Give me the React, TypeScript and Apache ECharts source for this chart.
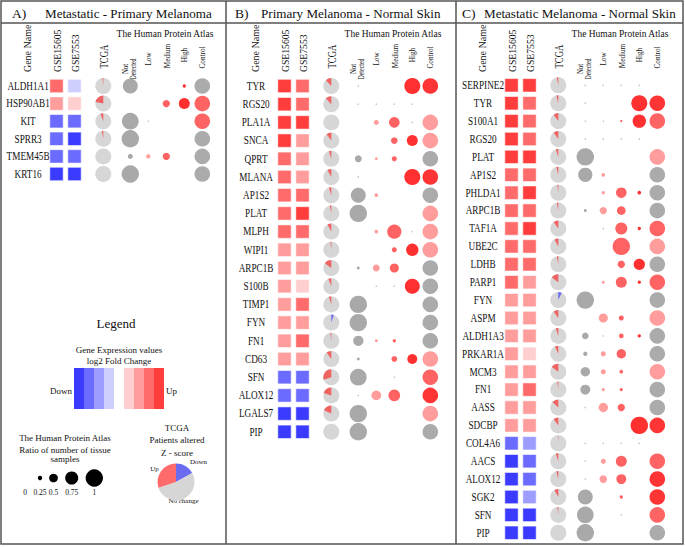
import React, { useEffect, useRef } from "react";
import * as echarts from "echarts";

const SERIF = "Liberation Serif";

// ---------- Panel A: Metastatic - Primary Melanoma ----------
const genesA = ["ALDH1A1", "HSP90AB1", "KIT", "SPRR3", "TMEM45B", "KRT16"];
const gse15605A = [3, 2, -3, -3, -3, -4];
const gse7553A = [-1, 1, -3, -4, -3, -4];
const tcgaUpA = [0.02, 0.22, 0.06, 0.03, 0, 0];
const tcgaDownA = [0, 0, 0, 0, 0, 0];
const notDetectedA = [0.86, 0, 0.96, 1.0, 0.29, 1.0];
const lowA = [0, 0, 0.05, 0, 0.25, 0];
const mediumA = [0, 0.42, 0, 0, 0.42, 0];
const highA = [0.19, 0.63, 0, 0, 0, 0];
const controlA = [0, 2, 2, 0, 0, 0];

// ---------- Panel B: Primary Melanoma - Normal Skin ----------
const genesB = ["TYR", "RGS20", "PLA1A", "SNCA", "QPRT", "MLANA", "AP1S2", "PLAT", "MLPH", "WIPI1", "ARPC1B", "S100B", "TIMP1", "FYN", "FN1", "CD63", "SFN", "ALOX12", "LGALS7", "PIP"];
const gse15605B = [4, 4, 4, 4, 3, 3, 3, 3, 3, 2, 2, 2, 2, 2, 2, 2, -3, -3, -4, -4];
const gse7553B = [3, 3, 4, 2, 2, 2, 3, 4, 3, 2, 2, 1, 3, 2, 3, 2, -3, -3, -4, -4];
const tcgaUpB = [0.12, 0.12, 0, 0.1, 0.05, 0.08, 0.05, 0.03, 0.08, 0.02, 0.15, 0.06, 0.05, 0, 0.02, 0.1, 0.3, 0.2, 0.18, 0];
const tcgaDownB = [0, 0, 0, 0, 0, 0, 0, 0, 0, 0, 0, 0, 0, 0.05, 0, 0, 0, 0, 0, 0];
const notDetectedB = [0.04, 0.03, 0, 0, 0.4, 0.04, 0.86, 1.0, 0, 0, 0.17, 0, 1.0, 1.0, 0.59, 0.17, 0.96, 0.04, 1.0, 1.0];
const lowB = [0, 0.03, 0.29, 0, 0.17, 0, 0.21, 0, 0.21, 0, 0.4, 0.04, 0, 0, 0.17, 0, 0, 0.56, 0, 0];
const mediumB = [0, 0.03, 0.61, 0.38, 0.29, 0, 0, 0, 0.82, 0.29, 0.52, 0.05, 0, 0, 0.19, 0.33, 0.04, 0.67, 0, 0];
const highB = [0.92, 0.03, 0.06, 0.63, 0, 0.92, 0, 0, 0.05, 0.71, 0, 0.86, 0, 0, 0, 0.57, 0, 0, 0, 0];
const controlB = [3, -1, 1, 1, 0, 3, 0, 1, 1, 1, 0, 0, 0, 0, 0, 1, 2, 3, 1, 0];

// ---------- Panel C: Metastatic Melanoma - Normal Skin ----------
const genesC = ["SERPINE2", "TYR", "S100A1", "RGS20", "PLAT", "AP1S2", "PHLDA1", "ARPC1B", "TAF1A", "UBE2C", "LDHB", "PARP1", "FYN", "ASPM", "ALDH1A3", "PRKAR1A", "MCM3", "FN1", "AASS", "SDCBP", "COL4A6", "AACS", "ALOX12", "SGK2", "SFN", "PIP"];
const gse15605C = [4, 4, 4, 4, 4, 3, 3, 3, 3, 3, 3, 3, 2, 2, 2, 2, 2, 2, 2, 2, -3, -4, -4, -4, -4, -4];
const gse7553C = [4, 3, 3, 3, 4, 3, 4, 3, 4, 3, 3, 2, 2, 2, 2, 1, 2, 3, 2, 2, -2, -3, -3, -2, -4, -4];
const tcgaUpC = [0.03, 0.04, 0.1, 0.1, 0.05, 0.04, 0.02, 0.03, 0.1, 0.08, 0.03, 0.15, 0, 0.1, 0.05, 0.07, 0.15, 0.02, 0.13, 0.1, 0.01, 0.05, 0.04, 0.08, 0.02, 0];
const tcgaDownC = [0, 0, 0, 0, 0, 0, 0, 0, 0, 0, 0, 0, 0.07, 0, 0, 0, 0, 0, 0, 0, 0, 0, 0, 0, 0, 0];
const notDetectedC = [0.03, 0.03, 0.03, 0.03, 1.0, 0.82, 0, 0.17, 0, 0, 0, 0, 1.0, 0, 0.38, 0.25, 0.54, 0.57, 0.04, 0, 0.03, 0.04, 0.04, 0.86, 0.96, 1.0];
const lowC = [0.03, 0, 0.03, 0.03, 0, 0.21, 0.19, 0.42, 0.06, 0, 0, 0.17, 0, 0.52, 0.04, 0.29, 0.29, 0.19, 0.54, 0, 0.03, 0.29, 0.44, 0, 0, 0];
const mediumC = [0.03, 0, 0.13, 0.03, 0, 0, 0.61, 0.5, 0.69, 1.0, 0.42, 0.63, 0, 0.29, 0.27, 0.54, 0.21, 0.19, 0.42, 0, 0.03, 0.63, 0.57, 0.19, 0.04, 0];
const highC = [0.03, 0.92, 0.77, 0.03, 0, 0, 0.21, 0, 0.19, 0, 0.65, 0.19, 0, 0, 0.19, 0, 0, 0, 0, 1.0, 0.03, 0, 0, 0, 0, 0];
const controlC = [-1, 3, 2, -1, 1, 0, 0, 0, 2, 1, 0, 2, 0, 1, 0, 0, 1, 0, 0, 3, -1, 2, 3, 3, 2, 0];

// ---------- Texts ----------
const panelLetters = ["A)", "B)", "C)"];
const panelTitles = ["Metastatic - Primary Melanoma", "Primary Melanoma - Normal Skin", "Metastatic Melanoma - Normal Skin"];
const legendPieNames = ["Down", "No change", "Up"];
const legendPieValues = [17, 53, 30];
const sizeLegendValues = [0, 0.25, 0.5, 0.75, 1];
const sizeLegendLabels = ["0", "0.25", "0.5", "0.75", "1"];
const foldLegendLevels = [-4, -3, -2, -1, 1, 2, 3, 4];

// ---------- Styling / layout ----------
const GSE_COLORS: Record<string, string> = {
  "-4": "#3b3bff", "-3": "#6b6bff", "-2": "#9d9dff", "-1": "#ceceff",
  "1": "#ffcece", "2": "#ff9d9d", "3": "#ff6b6b", "4": "#ff3d3d",
};
const CONTROL_COLORS = ["#ababab", "#ff9d9d", "#ff6464", "#ff3535"];
const HPA_COLORS = ["#a9a9a9", "#ff9d9d", "#ff6262", "#ff3030"];
const PIE_GREY = "#d6d6d6";
const PIE_UP = "#f06363";
const PIE_DOWN = "#6b6bef";
const COL_POS = [0, 1, 2.6, 4.1, 5.1, 6.1, 7.1, 8.1];
const NAME_POS = -1.58;
const UNIT = 18;
const R_MAX = 8.7;

const panels = [
  { px: 0, top: 77.2, rowH: 17.6, genes: genesA, g1: gse15605A, g2: gse7553A, up: tcgaUpA, down: tcgaDownA, nd: notDetectedA, low: lowA, med: mediumA, high: highA, ctrl: controlA },
  { px: 228, top: 76.9, rowH: 18.2, genes: genesB, g1: gse15605B, g2: gse7553B, up: tcgaUpB, down: tcgaDownB, nd: notDetectedB, low: lowB, med: mediumB, high: highB, ctrl: controlB },
  { px: 455, top: 76.35, rowH: 17.9, genes: genesC, g1: gse15605C, g2: gse7553C, up: tcgaUpC, down: tcgaDownC, nd: notDetectedC, low: lowC, med: mediumC, high: highC, ctrl: controlC },
];

function makeRenderer(genes: string[]) {
  return function renderRow(params: any, api: any) {
    const i = api.value(1);
    const x = (k: number) => api.coord([COL_POS[k], i])[0];
    const y = api.coord([0, i])[1];
    const children: any[] = [];
    children.push({
      type: "text", x: api.coord([NAME_POS, i])[0], y, scaleX: 0.8,
      style: { text: genes[i], fontFamily: SERIF, fontSize: 11.5, fill: "#111", align: "center", verticalAlign: "middle" },
    });
    const sq = 13.4;
    [2, 3].forEach((dim, k) => {
      const v = api.value(dim);
      children.push({
        type: "rect",
        shape: { x: x(k) - sq / 2, y: y - sq / 2, width: sq, height: sq },
        style: { fill: GSE_COLORS[String(v)], stroke: "rgba(255,255,255,0.55)", lineWidth: 1 },
      });
    });
    const pcx = x(2);
    const pr = 8;
    children.push({ type: "circle", shape: { cx: pcx, cy: y, r: pr }, style: { fill: PIE_GREY } });
    const up = api.value(4);
    const down = api.value(5);
    if (up > 0) {
      children.push({
        type: "sector",
        shape: { cx: pcx, cy: y, r0: 0, r: pr, startAngle: -Math.PI / 2 - up * 2 * Math.PI, endAngle: -Math.PI / 2, clockwise: true },
        style: { fill: PIE_UP },
      });
    }
    if (down > 0) {
      children.push({
        type: "sector",
        shape: { cx: pcx, cy: y, r0: 0, r: pr, startAngle: -Math.PI / 2, endAngle: -Math.PI / 2 + down * 2 * Math.PI, clockwise: true },
        style: { fill: PIE_DOWN },
      });
    }
    for (let k = 0; k < 4; k++) {
      const v = api.value(6 + k);
      if (v > 0) {
        children.push({
          type: "circle",
          shape: { cx: x(3 + k), cy: y, r: Math.max(0.8, R_MAX * v) },
          style: { fill: v < 0.08 ? "#c8c8c8" : HPA_COLORS[k] },
        });
      }
    }
    const c = api.value(10);
    if (c >= 0) {
      children.push({ type: "circle", shape: { cx: x(7), cy: y, r: 7.8 }, style: { fill: CONTROL_COLORS[c] } });
    }
    return { type: "group", children };
  };
}

function buildOption() {
  const grid: any[] = [];
  const xAxis: any[] = [];
  const yAxis: any[] = [];
  const series: any[] = [];
  const graphic: any[] = [];

  const txt = (text: string, x: number, y: number, size: number, align = "center", extra: any = {}) => ({
    type: "text", x, y, ...extra,
    style: { text, fontFamily: SERIF, fontSize: size, fill: "#111", align, verticalAlign: "middle" },
  });

  panels.forEach((p, pi) => {
    const left = p.px + 56.5 - 0.5 * UNIT;
    grid.push({ left, top: p.top, width: (COL_POS[7] + 1) * UNIT, height: p.genes.length * p.rowH });
    xAxis.push({ type: "value", gridIndex: pi, min: -0.5, max: COL_POS[7] + 0.5, show: false });
    yAxis.push({
      type: "category", gridIndex: pi, data: p.genes, inverse: true,
      axisLine: { show: false }, axisTick: { show: false }, splitLine: { show: false },
      axisLabel: { show: false },
    });
    series.push({
      type: "custom", xAxisIndex: pi, yAxisIndex: pi, clip: false, silent: true,
      renderItem: makeRenderer(p.genes),
      encode: { x: 0, y: 1 },
      data: p.genes.map((_, i) => [0, i, p.g1[i], p.g2[i], p.up[i], p.down[i], p.nd[i], p.low[i], p.med[i], p.high[i], p.ctrl[i]]),
    });

    // header
    const letterX = [12, 235, 462][pi];
    const titleX = [45, 261, 484][pi];
    graphic.push(txt(panelLetters[pi], letterX, 13.5, 13.5, "left"));
    graphic.push(txt(panelTitles[pi], titleX, 13.5, 13.5, "left", { scaleX: 0.97 }));

    // column headers
    const px = p.px;
    const rot = Math.PI / 2;
    graphic.push(txt("Gene Name", px + 27, 72, 10.5, "left", { rotation: rot, scaleX: 0.95 }));
    graphic.push(txt("GSE15605", px + 57, 72, 10.5, "left", { rotation: rot, scaleX: 0.92 }));
    graphic.push(txt("GSE7553", px + 75, 72, 10.5, "left", { rotation: rot, scaleX: 0.92 }));
    graphic.push(txt("TCGA", px + 103, 68.5, 12.5, "left", { rotation: rot, scaleX: 0.7 }));
    graphic.push(txt("Not", px + 125, 69, 8.5, "center", { rotation: rot, scaleX: 0.8 }));
    graphic.push(txt("Detected", px + 133.5, 69, 8.5, "center", { rotation: rot, scaleX: 0.7 }));
    graphic.push(txt("Low", px + 148, 59, 8.5, "center", { rotation: rot, scaleX: 0.85 }));
    graphic.push(txt("Medium", px + 167, 56, 8.5, "center", { rotation: rot, scaleX: 0.85 }));
    graphic.push(txt("High", px + 184, 55, 8.5, "center", { rotation: rot, scaleX: 0.85 }));
    graphic.push(txt("Control", px + 202, 57.5, 8.5, "center", { rotation: rot, scaleX: 0.85 }));
    graphic.push(txt("The Human Protein Atlas", px + 165, 33.5, 10, "center", { scaleX: 0.95 }));
  });

  // frame
  graphic.push({ type: "rect", shape: { x: 1, y: 1, width: 682, height: 543 }, style: { fill: "none", stroke: "#555", lineWidth: 1.5 } });
  graphic.push({ type: "line", shape: { x1: 1, y1: 23, x2: 683, y2: 23 }, style: { stroke: "#555", lineWidth: 1.5 } });
  graphic.push({ type: "line", shape: { x1: 226, y1: 1, x2: 226, y2: 544 }, style: { stroke: "#555", lineWidth: 1.5 } });
  graphic.push({ type: "line", shape: { x1: 456, y1: 1, x2: 456, y2: 544 }, style: { stroke: "#555", lineWidth: 1.5 } });

  // legend
  graphic.push(txt("Legend", 116, 323, 13));
  graphic.push(txt("Gene Expression values", 119, 350, 9));
  graphic.push(txt("log2 Fold Change", 119, 361, 9));
  foldLegendLevels.forEach((lv, k) => {
    const x0 = lv < 0 ? 74 + k * 10 : 124 + (k - 4) * 10;
    graphic.push({ type: "rect", shape: { x: x0, y: 368, width: 10, height: 41 }, style: { fill: GSE_COLORS[String(lv)] } });
  });
  graphic.push(txt("Down", 72, 391, 9, "right"));
  graphic.push(txt("Up", 166, 391, 9, "left"));

  graphic.push(txt("The Human Protein Atlas", 65, 438, 9));
  graphic.push(txt("Ratio of number of tissue", 65, 449.5, 9));
  graphic.push(txt("samples", 65, 458.5, 9));
  const sizeX = [25, 40, 53.5, 71.7, 94.3];
  sizeLegendValues.forEach((v, k) => {
    if (v > 0) graphic.push({ type: "circle", shape: { cx: sizeX[k], cy: 478, r: R_MAX * v }, style: { fill: "#000" } });
    graphic.push(txt(sizeLegendLabels[k], sizeX[k], 492.5, 7.5));
  });

  graphic.push(txt("TCGA", 177, 428, 9));
  graphic.push(txt("Patients altered", 177, 440, 9));
  graphic.push(txt("Z - score", 177, 452.5, 9));
  graphic.push(txt("Up", 154.5, 468.5, 7));
  graphic.push(txt("Down", 198.5, 462, 7));
  graphic.push(txt("No change", 183.5, 501, 7));

  series.push({
    type: "pie", center: [176, 482], radius: 18.5, startAngle: 90, clockwise: true, silent: true,
    label: { show: false }, labelLine: { show: false },
    data: legendPieNames.map((n, k) => ({ name: n, value: legendPieValues[k], itemStyle: { color: [PIE_DOWN, PIE_GREY, "#ff6a6a"][k] } })),
  });

  return { animation: false, backgroundColor: "#fff", grid, xAxis, yAxis, series, graphic };
}

export default function App() {
  const ref = useRef<HTMLDivElement>(null);
  useEffect(() => {
    document.body.style.margin = "0";
    const chart = echarts.init(ref.current!, undefined, { renderer: "svg" });
    chart.setOption(buildOption() as any);
    return () => chart.dispose();
  }, []);
  return <div ref={ref} style={{ width: 685, height: 547 }} />;
}
